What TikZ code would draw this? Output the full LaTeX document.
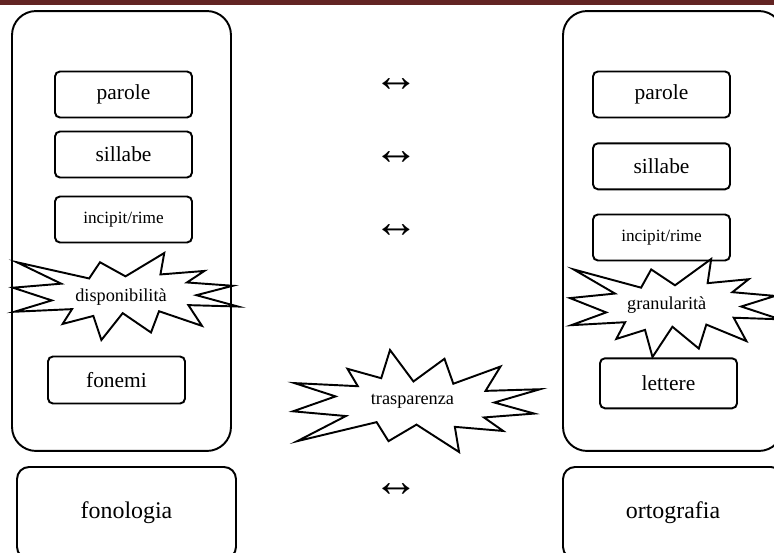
\documentclass[tikz,border=0pt]{standalone}
\usepackage{fontspec}
\setmainfont{Liberation Serif}
\definecolor{bandred}{RGB}{99,36,35}
\tikzset{
  panel/.style={draw, line width=1.1pt, rounded corners=0.48cm, minimum width=4.38cm, minimum height=8.8cm},
  unitbox/.style={draw, line width=1.1pt, rounded corners=2.8pt, minimum width=2.74cm, minimum height=0.92cm, inner sep=0pt, font=\fontsize{12.2}{14}\selectfont},
  basebox/.style={draw, line width=1.1pt, rounded corners=0.24cm, minimum width=4.38cm, minimum height=1.84cm, font=\fontsize{13.6}{16}\selectfont},
  burstline/.style={draw, fill=white, line width=1.1pt, line join=miter},
  burstlabel/.style={inner sep=0pt, font=\fontsize{10.4}{12}\selectfont},
  arrowlabel/.style={inner sep=0pt, font=\fontsize{26}{28}\selectfont},
  burst/.pic={
    \path[burstline] (50,26.85) -- (67.23,0) -- (65.53,24.65) -- (85.09,20.63) -- (77.32,33.87)
      -- (97.67,37.67) -- (81.51,48.50) -- (100,61.53) -- (77.95,59.92) -- (84.00,83.77)
      -- (64.91,66.93) -- (61.33,91.38) -- (48.76,69.14) -- (39.28,100) -- (35.72,72.35)
      -- (22.05,81.56) -- (26.24,64.52) -- (0.63,67.53) -- (17.23,54.51) -- (0,39.88)
      -- (21.42,35.26) -- (1.71,10.63) -- (33.85,29.26) -- (38.67,10.63) -- cycle;
  }
}
\begin{document}
\begin{tikzpicture}[x=0.02cm, y=-0.02cm]
\useasboundingbox (0,0) rectangle (774,553);
\clip (0,0) rectangle (774,553);
\fill[bandred] (0,0) rectangle (774,4.7);

\node[panel] (lpanel) at (121.5,231) {};
\node[panel, minimum width=4.4cm] (rpanel) at (673,231) {};

\node[unitbox] (lparole) at (123.5,94.5) {parole};
\node[unitbox] (lsillabe) at (123.5,154.5) {sillabe};
\node[unitbox, font=\fontsize{9.8}{12}\selectfont] (lincipit) at (123.5,219.5) {incipit/rime};
\node[unitbox, minimum height=0.94cm] (fonemi) at (116.5,380) {fonemi};

\node[unitbox] (rparole) at (661.5,94.5) {parole};
\node[unitbox] (rsillabe) at (661.5,166.3) {sillabe};
\node[unitbox, font=\fontsize{9.8}{12}\selectfont] (rincipit) at (661.5,237.5) {incipit/rime};
\node[unitbox, minimum height=1cm] (lettere) at (668.5,383.3) {lettere};

\node[basebox] (fonologia) at (126.5,513) {fonologia};
\node[basebox, minimum width=4.4cm] (ortografia) at (673,513) {ortografia};

\pic[xscale=2.25, yscale=0.87] at (13,253) {burst};
\pic[xscale=2.10, yscale=0.98] at (570,259) {burst};
\pic[xscale=2.47, yscale=-1.02] at (293,452) {burst};
\node[burstlabel] (disponibilita) at (121,297) {disponibilità};
\node[burstlabel] (granularita) at (666.7,305) {granularità};
\node[burstlabel] (trasparenza) at (412.5,401.7) {trasparenza};

\node[arrowlabel] (parolearrow) at (396.7,85) {↔};
\node[arrowlabel] (sillabearrow) at (396.7,158.5) {↔};
\node[arrowlabel] (incipitarrow) at (396.7,231) {↔};
\node[arrowlabel] (basearrow) at (396.7,490) {↔};
\end{tikzpicture}
\end{document}
